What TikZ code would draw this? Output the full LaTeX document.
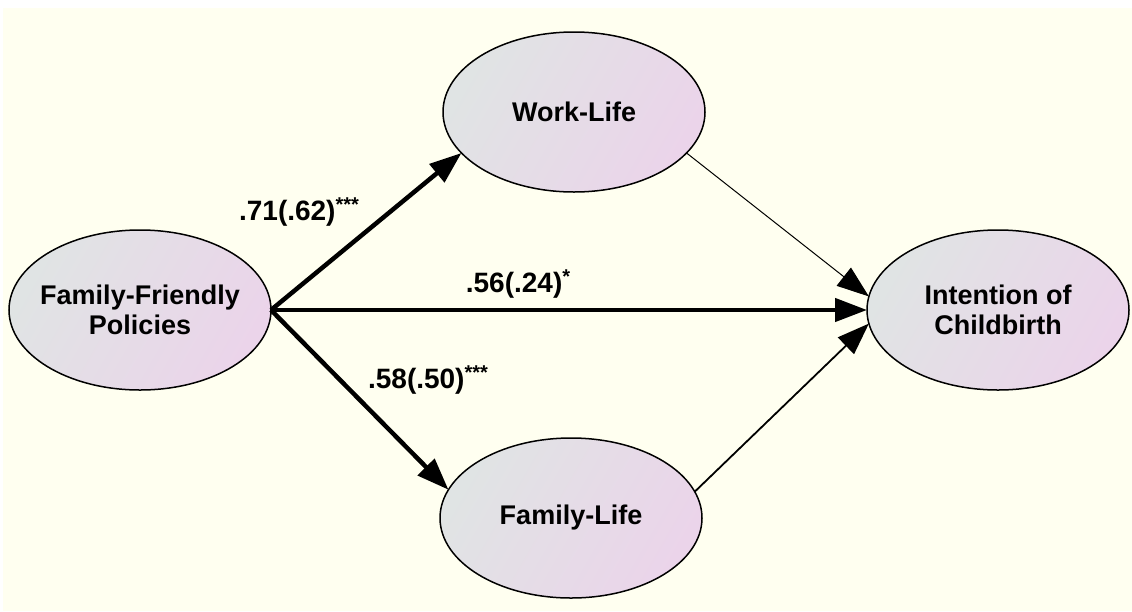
\documentclass[tikz,border=0pt]{standalone}
\usepackage{fontspec}
\setmainfont{Liberation Sans}
\usetikzlibrary{shapes.geometric,arrows.meta}
\definecolor{bgcream}{RGB}{255,255,240}
\definecolor{shadeL}{RGB}{224,228,228}
\definecolor{shadeR}{RGB}{235,212,234}
\tikzset{
  latent/.style={ellipse, draw=black, line width=1.5pt, minimum width=262pt, minimum height=160pt,
    inner xsep=-50pt, inner ysep=0pt, outer sep=0pt, left color=shadeL, right color=shadeR, shading angle=60,
    align=center, font=\fontsize{27}{30}\selectfont\bfseries},
  tip/.style={-{Triangle[length=32pt,width=23pt]}},
  strongpath/.style={tip, line width=4.5pt},
  weakpath/.style={tip, line width=1pt},
  midpath/.style={tip, line width=1.8pt},
  coef/.style={inner sep=0pt, font=\fontsize{28}{30}\selectfont\bfseries},
}
\newcommand{\stars}[1]{\raisebox{0.3em}{\fontsize{20}{20}\selectfont #1}}
\begin{document}
\begin{tikzpicture}[x=1pt,y=-1pt]
\useasboundingbox (0,0) rectangle (1132,611);
\fill[white] (0,0) rectangle (1132,611);
\fill[bgcream] (3,8) rectangle (1132,611);
\node[latent] (ffp) at (140,310) {Family-Friendly\\Policies};
\node[latent] (wl) at (574,112) {Work-Life};
\node[latent] (fl) at (571,518) {Family-Life};
\node[latent] (ic) at (998,310) {Intention of\\Childbirth};
\draw[strongpath] (ffp.east) -- (wl.200);
\draw[strongpath] (ffp.east) -- (ic.west);
\draw[strongpath] (ffp.east) -- (fl.167);
\draw[weakpath] (wl.-20) -- (ic.174);
\draw[midpath] (fl.12) -- (ic.186);
\node[coef] (c1) at (299,212) {.71(.62)\stars{***}};
\node[coef] (c2) at (518,284) {.56(.24)\stars{*}};
\node[coef] (c3) at (428,380) {.58(.50)\stars{***}};
\end{tikzpicture}
\end{document}
